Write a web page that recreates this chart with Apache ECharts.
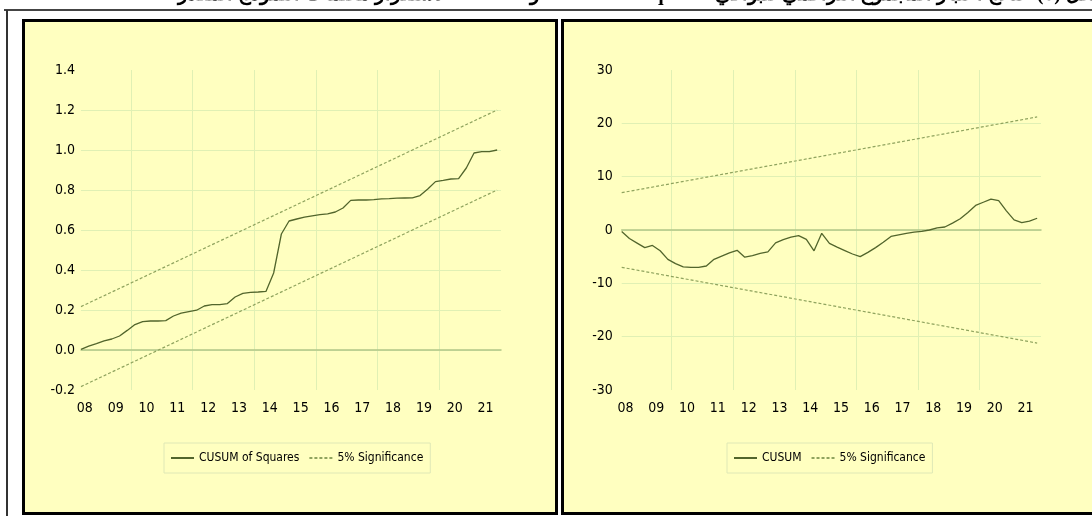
<!DOCTYPE html>
<html>
<head>
<meta charset="utf-8">
<script src="https://cdn.jsdelivr.net/npm/echarts@6.0.0/dist/echarts.min.js"></script>
<style>
  html, body { margin: 0; padding: 0; background: #ffffff; }
  #chart { width: 1092px; height: 516px; }
</style>
</head>
<body>
<div id="chart"></div>
<script>
// Year tick labels shown under both panels
const yearLabels = ['08', '09', '10', '11', '12', '13', '14', '15', '16', '17', '18', '19', '20', '21'];

// Recursive CUSUM of squares statistic, one value per period
const cusumSq = [
  0.003, 0.019, 0.032, 0.046, 0.055, 0.070, 0.098, 0.127, 0.142, 0.145,
  0.145, 0.147, 0.170, 0.184, 0.192, 0.199, 0.220, 0.227, 0.227, 0.232,
  0.265, 0.283, 0.288, 0.290, 0.293, 0.385, 0.580, 0.645, 0.655, 0.664,
  0.671, 0.677, 0.681, 0.690, 0.710, 0.748, 0.750, 0.750, 0.752, 0.756,
  0.757, 0.759, 0.760, 0.761, 0.772, 0.805, 0.842, 0.848, 0.855, 0.857,
  0.910, 0.985, 0.992, 0.992, 1.000
];
// 5% significance bounds (straight lines: first and last period)
const sqUpper = [0.217, 1.200];
const sqLower = [-0.183, 0.800];

// Recursive CUSUM statistic, one value per period
const cusum = [
  -0.3, -1.6, -2.45, -3.3, -2.9, -3.9, -5.5, -6.3, -6.9, -7.0,
  -7.0, -6.75, -5.5, -4.9, -4.3, -3.8, -5.1, -4.8, -4.4, -4.1,
  -2.4, -1.8, -1.35, -1.07, -1.75, -3.9, -0.63, -2.5, -3.2, -3.85,
  -4.5, -5.0, -4.2, -3.3, -2.3, -1.2, -0.9, -0.63, -0.4, -0.25,
  0.0, 0.4, 0.56, 1.3, 2.1, 3.3, 4.6, 5.2, 5.8, 5.5,
  3.6, 1.9, 1.4, 1.65, 2.2
];
const cuUpper = [7.0, 21.2];
const cuLower = [-7.0, -21.2];

// Figure caption (right-to-left paragraph)
const caption = '\u202Bالشكل (١): نتائج اختبار المجموع التراكمي للبواقي CUSUM of squares و CUSUM لاستقرار معلمات النموذج المقدر\u202C';

const lastIdx = cusumSq.length - 1;
const xMax = lastIdx + 0.5;
// year labels sit between quarters, vertical grid every two years
const labelPos = yearLabels.map((_, k) => 0.5 + 4 * k);
const gridPos = [6.5, 14.5, 22.5, 30.5, 38.5, 46.5];

const FONT = "'Liberation Sans Narrow', 'DejaVu Sans Condensed', sans-serif";
const SOLID = '#52652c';
const DASH = '#8fa35e';
const GRID = '#e0f0b4';
const ZERO = '#b1c687';

function pairs(arr) { return arr.map((v, i) => [i, v]); }
function ends(b) { return [[0, b[0]], [lastIdx, b[1]]]; }

function xAxesFor(gi) {
  return [
    {
      gridIndex: gi, type: 'value', min: 0, max: xMax, position: 'top', z: 1,
      axisLine: { show: true, onZero: true, lineStyle: { color: ZERO, width: 1.5 } },
      axisTick: { show: false, customValues: gridPos },
      axisLabel: { show: false },
      splitLine: { show: true, lineStyle: { color: GRID, width: 1 } }
    },
    {
      gridIndex: gi, type: 'value', min: 0, max: xMax, position: 'bottom',
      axisLine: { show: false, onZero: false },
      axisTick: { show: false },
      splitLine: { show: false },
      axisLabel: {
        customValues: labelPos, margin: 11,
        fontFamily: FONT, fontSize: 14, color: '#000',
        formatter: v => yearLabels[Math.round((v - 0.5) / 4)]
      }
    }
  ];
}

function yAxisFor(gi, min, max, step, digits, margin) {
  return {
    gridIndex: gi, type: 'value', min: min, max: max, interval: step,
    axisLine: { show: false }, axisTick: { show: false },
    axisLabel: {
      margin: margin, fontFamily: FONT, fontSize: 14, color: '#000',
      formatter: v => v.toFixed(digits)
    },
    splitLine: { show: true, showMinLine: false, showMaxLine: false, lineStyle: { color: GRID, width: 1 } }
  };
}

function solid(name, xi, yi, data) {
  return {
    type: 'line', name: name, xAxisIndex: xi, yAxisIndex: yi, data: data,
    symbol: 'none', z: 3,
    lineStyle: { color: SOLID, width: 1.3 }, itemStyle: { color: SOLID }
  };
}
function dashed(xi, yi, data) {
  return {
    type: 'line', name: '5% Significance', xAxisIndex: xi, yAxisIndex: yi, data: data,
    symbol: 'none', z: 2,
    lineStyle: { color: DASH, width: 1.2, type: [3, 2] }, itemStyle: { color: DASH }
  };
}

const legendBase = {
  orient: 'horizontal', itemWidth: 23, itemHeight: 14, itemGap: 9,
  padding: [9, 7, 9, 6], borderColor: '#dfe8b6', borderWidth: 1,
  itemStyle: { opacity: 0 },
  textStyle: { fontFamily: FONT, fontSize: 12, color: '#000' },
  selectedMode: false
};

const chart = echarts.init(document.getElementById('chart'), null, { renderer: 'canvas' });
chart.setOption({
  animation: false,
  backgroundColor: '#ffffff',
  graphic: [
    { type: 'text', z: -5, style: {
        text: caption,
        x: 1122, y: 5, align: 'right', verticalAlign: 'bottom',
        font: 'bold 20px "Liberation Serif", "DejaVu Serif", serif', fill: '#000' } },
    { type: 'line', z: -5, shape: { x1: 4, y1: 10, x2: 1092, y2: 10 }, style: { stroke: '#444', lineWidth: 2 } },
    { type: 'line', z: -5, shape: { x1: 7, y1: 10, x2: 7, y2: 516 }, style: { stroke: '#333', lineWidth: 2 } },
    { type: 'rect', z: -4, shape: { x: 23.5, y: 20.5, width: 533, height: 493 },
      style: { fill: '#ffffc0', stroke: '#000', lineWidth: 3 } },
    { type: 'rect', z: -4, shape: { x: 562.5, y: 20.5, width: 540, height: 493 },
      style: { fill: '#ffffc0', stroke: '#000', lineWidth: 3 } }
  ],
  grid: [
    { left: 81, top: 70, width: 420, height: 320 },
    { left: 621.7, top: 70, width: 419.3, height: 320 }
  ],
  xAxis: [].concat(xAxesFor(0), xAxesFor(1)),
  yAxis: [
    yAxisFor(0, -0.2, 1.4, 0.2, 1, 6),
    yAxisFor(1, -30, 30, 10, 0, 9)
  ],
  legend: [
    Object.assign({}, legendBase, { left: 164, top: 443, data: ['CUSUM of Squares', '5% Significance'] }),
    Object.assign({}, legendBase, { left: 727, top: 443, data: ['CUSUM', '5% Significance'] })
  ],
  series: [
    dashed(0, 0, ends(sqUpper)),
    dashed(0, 0, ends(sqLower)),
    solid('CUSUM of Squares', 0, 0, pairs(cusumSq)),
    dashed(2, 1, ends(cuUpper)),
    dashed(2, 1, ends(cuLower)),
    solid('CUSUM', 2, 1, pairs(cusum))
  ]
});
</script>
</body>
</html>
